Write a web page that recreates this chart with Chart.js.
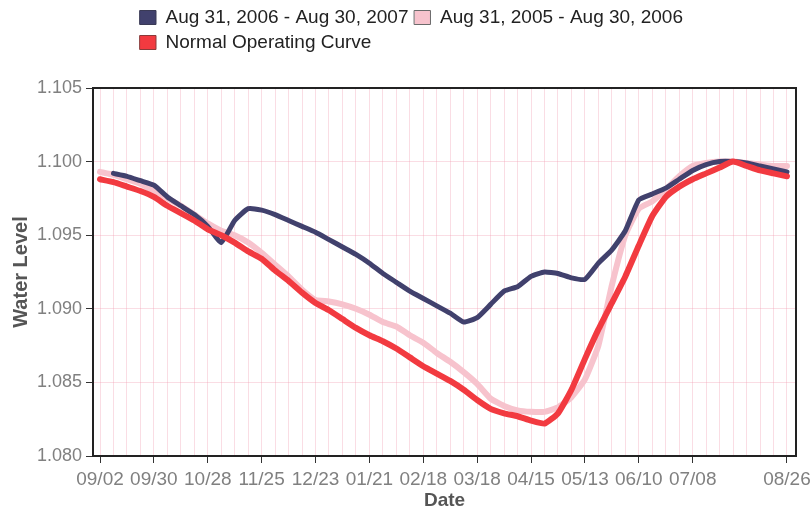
<!DOCTYPE html>
<html>
<head>
<meta charset="utf-8">
<script src="https://cdn.jsdelivr.net/npm/chart.js@4.4.1/dist/chart.umd.min.js"></script>
<style>
  html, body { margin: 0; padding: 0; background: #ffffff; }
  #wrap { width: 812px; height: 508px; }
</style>
</head>
<body>
<div id="wrap"><canvas id="c" width="812" height="508"></canvas></div>
<script>
// ---------- data ----------
const weekLabels = [
  '09/02','09/09','09/16','09/23','09/30','10/07','10/14','10/21','10/28','11/04',
  '11/11','11/18','11/25','12/02','12/09','12/16','12/23','12/30','01/06','01/13',
  '01/21','01/28','02/04','02/11','02/18','02/25','03/04','03/11','03/18','03/25',
  '04/01','04/08','04/15','04/22','04/29','05/06','05/13','05/20','05/27','06/03',
  '06/10','06/17','06/24','07/01','07/08','07/15','07/22','07/29','08/05','08/12',
  '08/19','08/26'
];
const shownTicks = ['09/02','09/30','10/28','11/25','12/23','01/21','02/18','03/18','04/15','05/13','06/10','07/08','08/26'];
const yTicks = [1.080, 1.085, 1.090, 1.095, 1.100, 1.105];

const seriesNames = ['Aug 31, 2006 - Aug 30, 2007', 'Aug 31, 2005 - Aug 30, 2006', 'Normal Operating Curve'];

const season2006 = [
  null,  1.0992,1.0990,1.0987,1.0984,1.0976,1.0970,1.0964,1.0956,1.0945,
  1.0960,1.0968,1.0967,1.0964,1.0960,1.0956,1.0952,1.0947,1.0942,1.0937,
  1.0931,1.0924,1.0918,1.0912,1.0907,1.0902,1.0897,1.0891,1.0894,1.0903,
  1.0912,1.0915,1.0922,1.0925,1.0924,1.0921,1.0920,1.0931,1.0940,1.0953,
  1.0974,1.0978,1.0982,1.0988,1.0994,1.0998,1.1000,1.1000,1.0999,1.0997,
  1.0995,1.0993
];
const season2005 = [
  1.0993,1.0991,1.0988,1.0985,1.0980,1.0975,1.0970,1.0964,1.0958,1.0953,
  1.0950,1.0945,1.0938,1.0930,1.0922,1.0913,1.0906,1.0905,1.0903,1.0900,
  1.0896,1.0891,1.0888,1.0882,1.0877,1.0870,1.0864,1.0857,1.0849,1.0839,
  1.0834,1.0831,1.0830,1.0830,1.0833,1.0840,1.0852,1.0875,1.0916,1.0950,
  1.0968,1.0973,1.0981,1.0990,1.0997,1.0999,1.1000,1.1000,1.0999,1.0998,
  1.0997,1.0997
];
const normalCurve = [
  1.0988,1.0986,1.0983,1.0980,1.0976,1.0970,1.0965,1.0960,1.0954,1.0950,
  1.0945,1.0939,1.0934,1.0926,1.0919,1.0911,1.0904,1.0899,1.0893,1.0887,
  1.0882,1.0878,1.0873,1.0867,1.0861,1.0856,1.0851,1.0845,1.0838,1.0832,
  1.0829,1.0827,1.0824,1.0822,1.0829,1.0845,1.0866,1.0886,1.0904,1.0922,
  1.0943,1.0963,1.0976,1.0983,1.0988,1.0992,1.0996,1.1000,1.0997,1.0994,
  1.0992,1.0990
];

// ---------- styling ----------
const FONT = "'Liberation Sans', Arial, Helvetica, sans-serif";
const colors = ['#41416d', '#f7c3cd', '#f23a40'];
const boxStroke = ['#3a3a55', '#6a6a6a', '#8a3a3a'];
const toPoints = arr => arr.map((v, i) => ({ x: i, y: v }));

const legendTweak = {
  id: 'legendTweak',
  afterInit(chart) {
    const lg = chart.legend;
    if (!lg) return;
    const fit = lg.fit;
    lg.fit = function () {
      const mw = this.maxWidth;
      this.maxWidth = 600;
      fit.call(this);
      this.maxWidth = mw;
      this.width = mw;
      this.height += 28;
    };
  },
  afterLayout(chart) {
    if (chart.legend) { chart.legend.left = 134; chart.legend.top = 2; }
  }
};

const frame = {
  id: 'frame',
  beforeDatasetsDraw(chart) {
    const { ctx, chartArea: a } = chart;
    ctx.save();
    ctx.strokeStyle = '#222';
    ctx.lineWidth = 2;
    ctx.strokeRect(a.left, a.top, a.right - a.left, a.bottom - a.top);
    ctx.restore();
  }
};

const mkDataset = (name, arr, idx, width, order) => ({
  label: name,
  data: toPoints(arr),
  borderColor: colors[idx],
  backgroundColor: colors[idx],
  borderWidth: width,
  pointRadius: 0,
  pointHoverRadius: 0,
  tension: 0.15,
  borderJoinStyle: 'round',
  borderCapStyle: 'round',
  spanGaps: false,
  order: order
});

new Chart(document.getElementById('c'), {
  type: 'line',
  data: {
    datasets: [
      mkDataset(seriesNames[0], season2006, 0, 5, 1),
      mkDataset(seriesNames[1], season2005, 1, 6, 2),
      mkDataset(seriesNames[2], normalCurve, 2, 6, 0)
    ]
  },
  plugins: [legendTweak, frame],
  options: {
    responsive: false,
    animation: false,
    devicePixelRatio: 1,
    layout: { padding: { top: 0, right: 16, bottom: 0, left: 0 } },
    plugins: {
      tooltip: { enabled: false },
      legend: {
        display: true,
        position: 'top',
        align: 'start',
        labels: {
          font: { family: FONT, size: 19 },
          color: '#222',
          boxWidth: 16,
          boxHeight: 14,
          padding: 6,
          sort: (a, b) => a.datasetIndex - b.datasetIndex,
          generateLabels(chart) {
            const items = Chart.defaults.plugins.legend.labels.generateLabels(chart);
            items.forEach(it => {
              it.fillStyle = colors[it.datasetIndex];
              it.strokeStyle = boxStroke[it.datasetIndex];
              it.lineWidth = 1;
            });
            return items;
          }
        }
      }
    },
    scales: {
      x: {
        type: 'linear',
        min: -0.52,
        max: 51.67,
        afterBuildTicks(s) { s.ticks = weekLabels.map((_, i) => ({ value: i })); },
        afterFit(s) { s.height = 52; s.paddingLeft = 0; s.paddingRight = 0; },
        ticks: {
          autoSkip: false,
          maxRotation: 0,
          minRotation: 0,
          padding: 5,
          color: '#808080',
          font: { family: FONT, size: 19 },
          callback: v => (shownTicks.includes(weekLabels[v]) ? weekLabels[v] : '')
        },
        grid: {
          color: 'rgba(240,150,170,0.32)',
          lineWidth: 1,
          drawTicks: true,
          tickLength: 7,
          tickColor: c => (c.tick && shownTicks.includes(weekLabels[c.tick.value]) ? '#333' : 'rgba(0,0,0,0)')
        },
        border: { display: false },
        title: {
          display: true,
          text: 'Date',
          color: '#555',
          font: { family: FONT, size: 19, weight: 'bold' },
          padding: { top: 0, bottom: -4 }
        }
      },
      y: {
        type: 'linear',
        min: 1.080,
        max: 1.105,
        afterBuildTicks(s) { s.ticks = yTicks.map(v => ({ value: v })); },
        afterFit(s) { s.width = 93; },
        ticks: {
          padding: 4,
          color: '#808080',
          font: { family: FONT, size: 18 },
          callback: v => Number(v).toFixed(3)
        },
        grid: {
          color: 'rgba(240,150,170,0.32)',
          lineWidth: 1,
          tickLength: 7,
          tickColor: '#333'
        },
        border: { display: false },
        title: {
          display: true,
          text: 'Water Level',
          color: '#555',
          font: { family: FONT, size: 20, weight: 'bold' },
          padding: { top: 9, bottom: 0 }
        }
      }
    }
  }
});
</script>
</body>
</html>
